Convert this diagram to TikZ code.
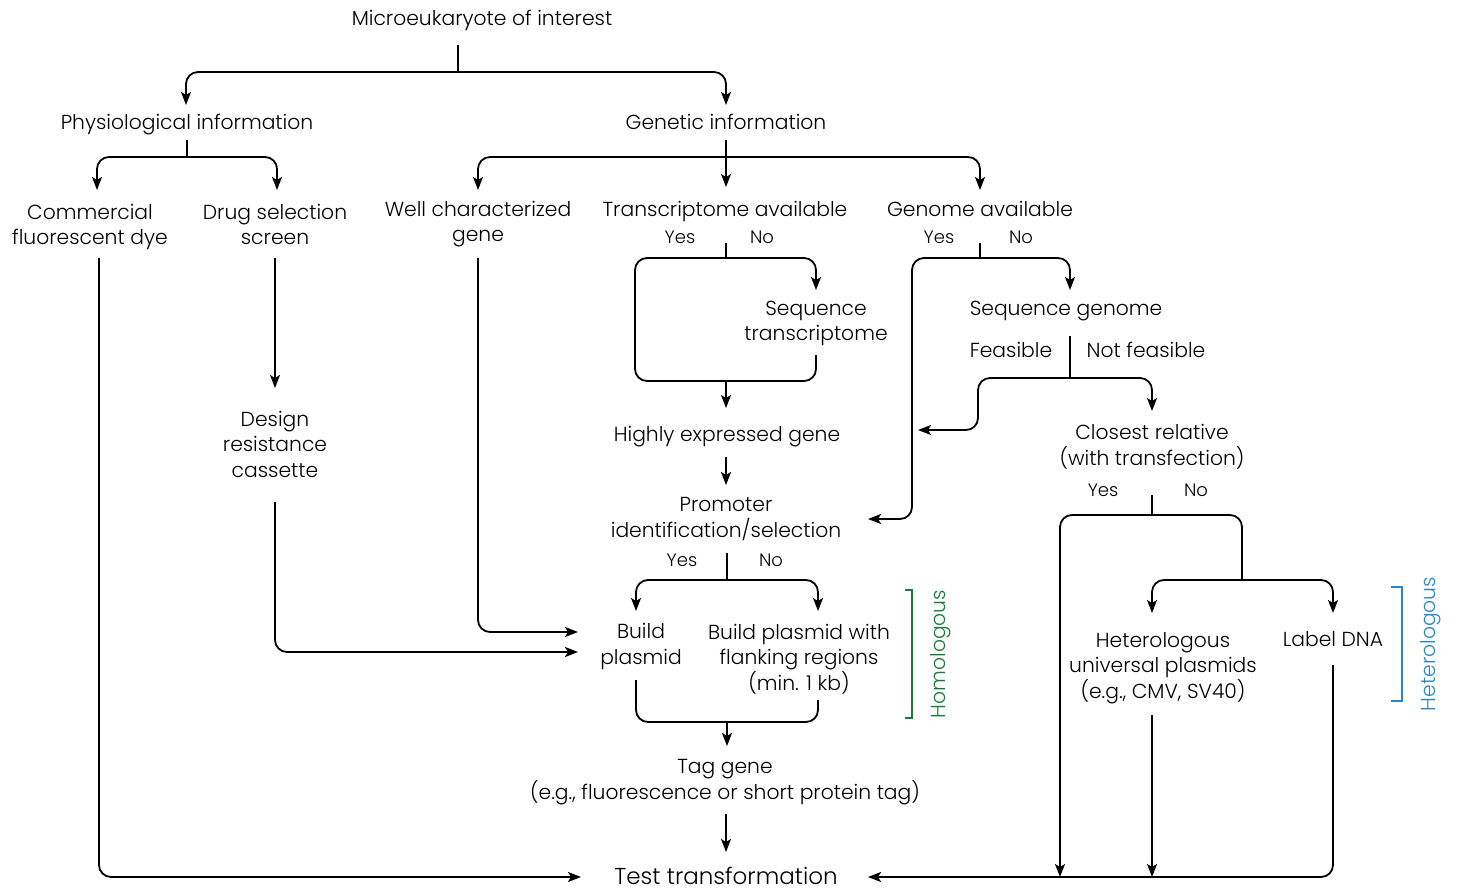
\documentclass[tikz,border=0pt]{standalone}
\usepackage{fontspec}
\setmainfont{Poppins Light}
\usetikzlibrary{arrows.meta}
\definecolor{homgreen}{RGB}{26,122,62}
\definecolor{hetblue}{RGB}{42,134,200}
\tikzset{
  ln/.style={line width=1.8pt, rounded corners=12pt},
  arr/.style={ln, -{Stealth[length=13pt,width=10pt,inset=3pt]}},
  txt/.style={align=center, anchor=base, inner sep=0pt, font=\fontsize{20.3}{25.5}\selectfont},
  sml/.style={anchor=base, inner sep=0pt, font=\fontsize{18}{20}\selectfont},
}
\begin{document}
\begin{tikzpicture}[x=1pt,y=-1pt]
\useasboundingbox (0,0) rectangle (1458,890);
% nodes (anchor = baseline of last line)
\node[txt] (mic) at (482,26) {Microeukaryote of interest};
\node[txt] (phys) at (187,130) {Physiological information};
\node[txt] (gen) at (726,130) {Genetic information};
\node[txt] (dye) at (90,245) {Commercial\\fluorescent dye};
\node[txt] (drug) at (275,245) {Drug selection\\screen};
\node[txt] (well) at (478,242) {Well characterized\\gene};
\node[txt] (trans) at (725,217) {Transcriptome available};
\node[txt] (genome) at (980,217) {Genome available};
\node[sml] (tyes) at (680,244) {Yes};
\node[sml] (tno) at (762,244) {No};
\node[sml] (gyes) at (939,244) {Yes};
\node[sml] (gno) at (1021,244) {No};
\node[txt] (seqt) at (816,341) {Sequence\\transcriptome};
\node[txt] (seqg) at (1066,316) {Sequence genome};
\node[txt] (feas) at (1011,357) {Feasible};
\node[txt] (nfeas) at (1146,357) {Not feasible};
\node[txt] (hex) at (727,441) {Highly expressed gene};
\node[txt] (close) at (1152,465) {Closest relative\\(with transfection)};
\node[sml] (cyes) at (1103,496) {Yes};
\node[sml] (cno) at (1196,496) {No};
\node[txt] (prom) at (726,537) {Promoter\\identification/selection};
\node[sml] (pyes) at (682,566) {Yes};
\node[sml] (pno) at (771,566) {No};
\node[txt] (design) at (275,477) {Design\\resistance\\cassette};
\node[txt] (build) at (641,664) {Build\\plasmid};
\node[txt] (flank) at (799,690) {Build plasmid with\\flanking regions\\(min. 1 kb)};
\node[txt] (hetpl) at (1163,698) {Heterologous\\universal plasmids\\(e.g., CMV, SV40)};
\node[txt] (label) at (1333,646) {Label DNA};
\node[txt] (tag) at (725,799) {Tag gene\\(e.g., fluorescence or short protein tag)};
\node[txt, font=\fontsize{23}{26}\selectfont] (test) at (726,884) {Test transformation};
\node[txt, text=homgreen, rotate=90, anchor=center] (homo) at (941,654) {Homologous};
\node[txt, text=hetblue, rotate=90, anchor=center] (hetero) at (1431,644) {Heterologous};
% connectors
\draw[ln] (458,45) -- (458,72);
\draw[arr] (458,72) -| (186,105);
\draw[arr] (458,72) -| (726,105);
\draw[ln] (187,140) -- (187,157);
\draw[arr] (187,157) -| (97,190);
\draw[arr] (187,157) -| (277,190);
\draw[arr] (726,140) -- (726,187);
\draw[arr] (726,157) -| (478,190);
\draw[arr] (726,157) -| (980,190);
% transcriptome
\draw[ln] (726,243) -- (726,258);
\draw[arr] (726,258) -| (816,290);
\draw[ln] (726,258) -| (635,381) -| (816,355);
\draw[arr] (726,381) -- (726,408);
\draw[arr] (726,457) -- (726,485);
% genome
\draw[ln] (980,243) -- (980,258);
\draw[arr] (980,258) -| (912,519) -- (868,519);
\draw[arr] (980,258) -| (1070,290);
\draw[ln] (1070,336) -- (1070,378);
\draw[arr] (1070,378) -| (1152,411);
\draw[arr] (1070,378) -| (978,430) -- (918,430);
% closest relative
\draw[ln] (1152,495) -- (1152,515);
\draw[arr] (1152,515) -| (1060,877);
\draw[ln] (1152,515) -| (1242,580);
\draw[arr] (1242,580) -| (1152,613);
\draw[arr] (1242,580) -| (1333,613);
\draw[arr] (1152,715) -- (1152,877);
\draw[arr] (1333,665) |- (868,877);
% promoter
\draw[ln] (727,553) -- (727,580);
\draw[arr] (727,580) -| (636,611);
\draw[arr] (727,580) -| (818,611);
\draw[ln] (636,680) |- (727,722) -| (818,700);
\draw[arr] (727,722) -- (727,746);
\draw[arr] (726,814) -- (726,852);
% left side
\draw[arr] (99,258) |- (581,877);
\draw[arr] (275,258) -- (275,388);
\draw[arr] (275,502) |- (578,652);
\draw[arr] (478,258) |- (578,632);
% brackets
\draw[homgreen, line width=1.8pt] (905,590) -- (912,590) -- (912,718) -- (905,718);
\draw[hetblue, line width=1.8pt] (1391,587) -- (1402,587) -- (1402,701) -- (1391,701);
\end{tikzpicture}
\end{document}
